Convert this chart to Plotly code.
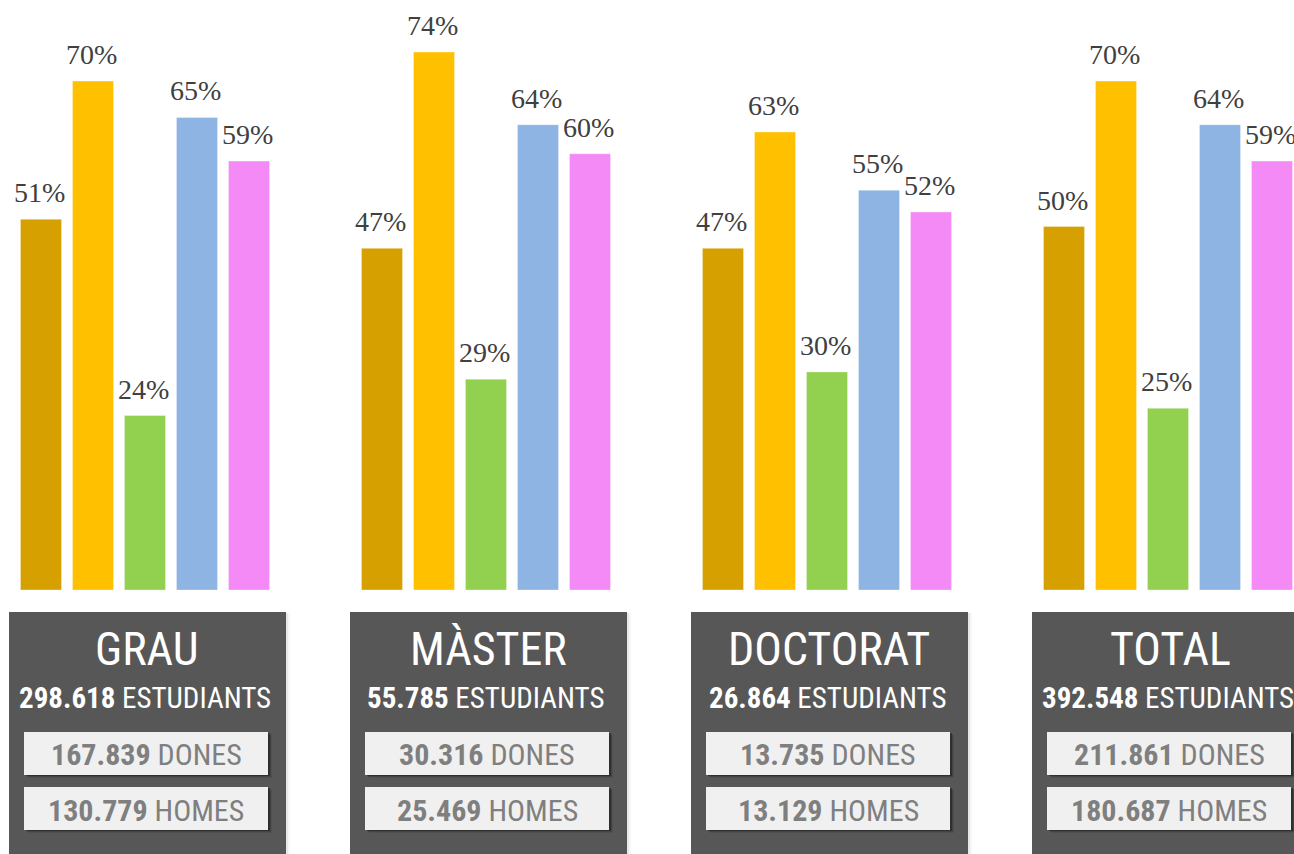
import plotly.graph_objects as go

W, H = 1294, 854

groups = ["GRAU", "MÀSTER", "DOCTORAT", "TOTAL"]
students = ["298.618", "55.785", "26.864", "392.548"]
dones = ["167.839", "30.316", "13.735", "211.861"]
homes = ["130.779", "25.469", "13.129", "180.687"]

series_names = ["Sèrie 1", "Sèrie 2", "Sèrie 3", "Sèrie 4", "Sèrie 5"]
s1 = [51, 47, 47, 50]
s2 = [70, 74, 63, 70]
s3 = [24, 29, 30, 25]
s4 = [65, 64, 55, 64]
s5 = [59, 60, 52, 59]
series = [s1, s2, s3, s4, s5]
colors = ["#D5A000", "#FFC000", "#92D050", "#8DB4E2", "#F38AF5"]

# layout geometry (pixels)
group_pitch = 341
first_center = 145
zero_px = 590
px_per_unit = 7.27

x_idx = list(range(len(groups)))

fig = go.Figure()
for name, vals, col in zip(series_names, series, colors):
    fig.add_trace(go.Bar(
        x=x_idx, y=vals, name=name,
        marker=dict(color=col, line=dict(color="rgba(255,255,255,0.35)", width=1)),
        hovertemplate="%{y}%<extra>" + name + "</extra>",
    ))

def px2x(px):
    return px / W

def py2y(py):
    return 1 - py / H

shapes = []
annotations = []

# percentage labels
slot = 52
for j, vals in enumerate(series):
    for i, v in enumerate(vals):
        annotations.append(dict(
            x=i, y=v, xref="x", yref="y", text=f"{v}%", showarrow=False,
            xshift=(j - 2) * slot - 2, xanchor="center", yanchor="bottom", yshift=9,
            font=dict(family="Liberation Serif, Times New Roman, serif", size=28, color="#404040"),
        ))

narrow = "Liberation Sans Narrow, Arial Narrow, Roboto Condensed, sans-serif"
for i, g in enumerate(groups):
    c = first_center + i * group_pitch + 1
    # soft shadow of dark box
    for k, a in enumerate([0.06, 0.03]):
        shapes.append(dict(type="rect", xref="paper", yref="paper",
                           x0=px2x(c - 137), x1=px2x(c + 140 + 2 * (k + 1)),
                           y0=py2y(H + 5), y1=py2y(613),
                           fillcolor=f"rgba(0,0,0,{a})", line=dict(width=0), layer="above"))
    shapes.append(dict(type="rect", xref="paper", yref="paper",
                       x0=px2x(c - 137), x1=px2x(c + 140), y0=py2y(H + 5), y1=py2y(612),
                       fillcolor="#575757", line=dict(width=0), layer="above"))
    for (top, bot) in [(732, 775), (787, 830)]:
        for k, a in enumerate([0.3, 0.15, 0.07]):
            shapes.append(dict(type="rect", xref="paper", yref="paper",
                               x0=px2x(c - 121 + k + 1), x1=px2x(c + 123 + k + 1),
                               y0=py2y(bot + k + 1), y1=py2y(top + k + 1),
                               fillcolor=f"rgba(0,0,0,{a})", line=dict(width=0), layer="above"))
        shapes.append(dict(type="rect", xref="paper", yref="paper",
                           x0=px2x(c - 122), x1=px2x(c + 122), y0=py2y(bot), y1=py2y(top),
                           fillcolor="#F0F0F0", line=dict(width=0), layer="above"))
    annotations.append(dict(x=px2x(c + 1), y=py2y(649), xref="paper", yref="paper",
                            text=g, showarrow=False, xanchor="center", yanchor="middle",
                            font=dict(family=narrow, size=46, color="white")))
    annotations.append(dict(x=px2x(c - 1), y=py2y(698), xref="paper", yref="paper",
                            text=f"<b>{students[i]}</b> ESTUDIANTS", showarrow=False,
                            xanchor="center", yanchor="middle",
                            font=dict(family=narrow, size=29, color="white")))
    annotations.append(dict(x=px2x(c), y=py2y(754), xref="paper", yref="paper",
                            text=f"<b>{dones[i]}</b> DONES", showarrow=False,
                            xanchor="center", yanchor="middle",
                            font=dict(family=narrow, size=30, color="#7F7F7F")))
    annotations.append(dict(x=px2x(c), y=py2y(810), xref="paper", yref="paper",
                            text=f"<b>{homes[i]}</b> HOMES", showarrow=False,
                            xanchor="center", yanchor="middle",
                            font=dict(family=narrow, size=30, color="#7F7F7F")))

fig.update_layout(
    width=W, height=H,
    margin=dict(l=0, r=0, t=0, b=0),
    paper_bgcolor="white", plot_bgcolor="white",
    barmode="group", bargap=0.2375, bargroupgap=0.21,
    showlegend=False,
    xaxis=dict(range=[-first_center / group_pitch, (W - first_center) / group_pitch],
               visible=False, fixedrange=True),
    yaxis=dict(range=[-(H - zero_px) / px_per_unit, zero_px / px_per_unit],
               visible=False, fixedrange=True),
    shapes=shapes, annotations=annotations,
)

fig.write_html("out.html", config={"displayModeBar": False},
               post_script="document.body.style.margin='0';")
